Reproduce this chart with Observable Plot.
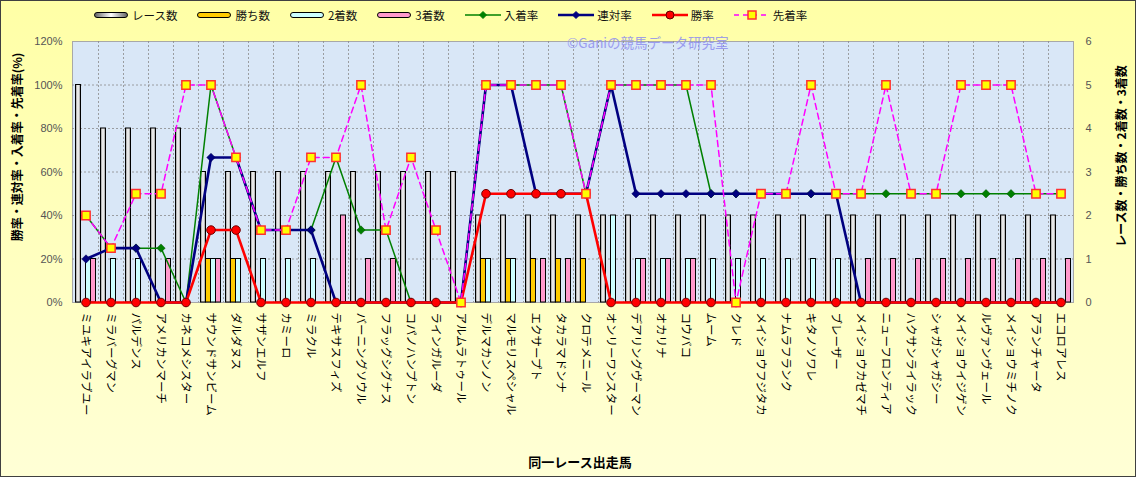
<!DOCTYPE html>
<html>
<head>
<meta charset="utf-8">
<script src="https://cdn.jsdelivr.net/npm/d3@7"></script>
<script src="https://cdn.jsdelivr.net/npm/@observablehq/plot@0.6"></script>
<style>
  body { margin: 0; background: #fff; }
  #wrap { position: relative; width: 1136px; height: 477px; overflow: hidden;
          background: linear-gradient(#ffffa6, #ffffd6); font-family: "Noto Sans CJK JP", sans-serif; }
  #legend { height: 30px; display: flex; align-items: center; padding-left: 94px; font-size: 11.5px; color: #111; }
  .item { display: flex; align-items: center; margin-right: 20px; }
  .sw { width: 32px; height: 4px; border: 1px solid #000; border-radius: 3px; margin-right: 4px; }
  .ln { margin-right: 3px; }
  #mark { position: absolute; left: 567px; top: 32px; font-size: 13.5px; color: #9090ee; opacity: 0.85; white-space: nowrap; }
  #border { position: absolute; left: 0; top: 0; width: 1134px; height: 475px; border: 1px solid #404040; pointer-events: none; }
  svg { display: block; }
</style>
</head>
<body>
<div id="wrap">
  <div id="legend"></div>
  <div id="chart"></div>
  <div id="mark">©Ganiの競馬データ研究室</div>
  <div id="border"></div>
</div>
<script>
const horses = ["ミユキアイラブユー","ミラバーグマン","パルデンス","アメリカンマーチ","カネコメシスター","サウンドサンビーム","ダルダヌス","サザンエルフ","カミーロ","ミラクル","テキサスフィズ","バーニングソウル","フラッグシグナス","コパノハンプトン","ラインガルーダ","アルムラトゥール","デルマカンノン","マルモリスペシャル","エクサープト","タカラマドンナ","クロテメニール","オンリーワンスター","デアリングヴーマン","オカリナ","コウバコ","ムーム","クレド","メイショウフジタカ","ナムラフランク","キタノソワレ","ブレーザー","メイショウカゼマチ","ニューフロンティア","ハクサンライラック","シャガシャガシー","メイショウイジゲン","ルヴァンヴェール","メイショウミチノク","アランチャータ","エコロアレス"];

// counts (right axis)
const races   = [5,4,4,4,4,3,3,3,3,3,3,3,3,3,3,3,2,2,2,2,2,2,2,2,2,2,2,2,2,2,2,2,2,2,2,2,2,2,2,2];
const wins    = [0,0,0,0,0,1,1,0,0,0,0,0,0,0,0,0,1,1,1,1,1,0,0,0,0,0,0,0,0,0,0,0,0,0,0,0,0,0,0,0];
const seconds = [1,1,1,0,0,1,1,1,1,1,0,0,0,0,0,0,1,1,0,0,0,2,1,1,1,1,1,1,1,1,1,0,0,0,0,0,0,0,0,0];
const thirds  = [1,0,0,1,0,1,0,0,0,0,2,1,1,0,0,0,0,0,1,1,0,0,1,1,1,0,0,0,0,0,0,1,1,1,1,1,1,1,1,1];

// rates (left axis, %)
const winRate      = [0,0,0,0,0,33.3,33.3,0,0,0,0,0,0,0,0,0,50,50,50,50,50,0,0,0,0,0,0,0,0,0,0,0,0,0,0,0,0,0,0,0];
const rentaiRate   = [20,25,25,0,0,66.7,66.7,33.3,33.3,33.3,0,0,0,0,0,0,100,100,50,50,50,100,50,50,50,50,50,50,50,50,50,0,0,0,0,0,0,0,0,0];
const placeRate    = [40,25,25,25,0,100,66.7,33.3,33.3,33.3,66.7,33.3,33.3,0,0,0,100,100,100,100,50,100,100,100,100,50,50,50,50,50,50,50,50,50,50,50,50,50,50,50];
const senchakuRate = [40,25,50,50,100,100,66.7,33.3,33.3,66.7,66.7,100,33.3,66.7,33.3,0,100,100,100,100,50,100,100,100,100,100,0,50,50,100,50,50,100,50,50,100,100,100,50,50];

const leftTicks  = [0,20,40,60,80,100,120];
const rightTicks = [0,1,2,3,4,5,6];
const unit = 20; // one race on the right axis equals 20% on the left axis

const rows = horses.map((horse, i) => ({
  horse, races: races[i], wins: wins[i], seconds: seconds[i], thirds: thirds[i],
  win: winRate[i], rentai: rentaiRate[i], place: placeRate[i], senchaku: senchakuRate[i]
}));

// legend
const legendItems = [
  {label: "レース数", bar: "linear-gradient(90deg,#666,#fff 50%,#666)"},
  {label: "勝ち数", bar: "#ffcc00"},
  {label: "2着数", bar: "#ccffff"},
  {label: "3着数", bar: "#ff99cc"},
  {label: "入着率", line: "#008000", sym: "diamond", mfill: "#008000", mstroke: "#008000", w: 1.5},
  {label: "連対率", line: "#000080", sym: "diamond", mfill: "#000080", mstroke: "#000080", w: 2.5},
  {label: "勝率", line: "#ff0000", sym: "circle", mfill: "#ff0000", mstroke: "#600000", w: 2.5},
  {label: "先着率", line: "#ff00ff", sym: "square", mfill: "#ffff00", mstroke: "#ff3030", w: 1.5, dash: "5,4"}
];
const legend = document.getElementById("legend");
for (const it of legendItems) {
  const d = document.createElement("div");
  d.className = "item";
  let sym;
  if (it.bar) {
    sym = `<div class="sw" style="background:${it.bar}"></div>`;
  } else {
    let m = "";
    if (it.sym === "circle") m = `<circle cx="18" cy="6" r="4" fill="${it.mfill}" stroke="${it.mstroke}"/>`;
    if (it.sym === "diamond") m = `<path d="M18,2.5L21.5,6L18,9.5L14.5,6Z" fill="${it.mfill}" stroke="${it.mstroke}"/>`;
    if (it.sym === "square") m = `<rect x="14" y="2" width="8" height="8" fill="${it.mfill}" stroke="${it.mstroke}" stroke-width="1.5"/>`;
    sym = `<svg class="ln" width="36" height="12"><line x1="0" y1="6" x2="36" y2="6" stroke="${it.line}" stroke-width="${it.w}" ${it.dash ? `stroke-dasharray="${it.dash}"` : ""}/>${m}</svg>`;
  }
  d.innerHTML = sym + `<span>${it.label}</span>`;
  legend.appendChild(d);
}

const barSeries = [
  {key: "races", fill: "url(#raceGrad)"},
  {key: "wins", fill: "#ffcc00"},
  {key: "seconds", fill: "#ccffff"},
  {key: "thirds", fill: "#ff99cc"}
];
const barW = 5, barPad = 2.5;
const barMarks = barSeries.map((s, k) =>
  Plot.barY(rows.filter(d => d[s.key] > 0), {
    x: "horse", y: d => d[s.key] * unit, fill: s.fill, stroke: "#000", strokeWidth: 1,
    insetLeft: barPad + barW * k, insetRight: barPad + barW * (3 - k)
  })
);

const svg = Plot.plot({
  width: 1136, height: 447,
  marginTop: 11, marginBottom: 175, marginLeft: 72, marginRight: 63,
  style: {background: "transparent", fontFamily: "'Noto Sans CJK JP', sans-serif", overflow: "visible"},
  x: {type: "band", domain: horses, padding: 0, axis: null, label: null},
  y: {domain: [0, 120], axis: null, label: null},
  marks: [
    Plot.frame({fill: "#d9e7f7", stroke: "#a8a8a8"}),
    Plot.ruleY(leftTicks.slice(1, -1), {stroke: "#8a8a8a", strokeWidth: 0.8, strokeDasharray: "2,2"}),
    Plot.ruleX(horses.slice(1), {x: d => d, dx: -12.5, stroke: "#8a8a8a", strokeWidth: 0.8, strokeDasharray: "2,2"}),
    ...barMarks,
    Plot.line(rows, {x: "horse", y: "place", stroke: "#008000", strokeWidth: 1.5}),
    Plot.dot(rows, {x: "horse", y: "place", symbol: "diamond2", r: 3.8, fill: "#008000", stroke: "#005000", strokeWidth: 0.5}),
    Plot.line(rows, {x: "horse", y: "rentai", stroke: "#000080", strokeWidth: 2.6}),
    Plot.dot(rows, {x: "horse", y: "rentai", symbol: "diamond2", r: 3.8, fill: "#000080", stroke: "#000050", strokeWidth: 0.5}),
    Plot.line(rows, {x: "horse", y: "win", stroke: "#ff0000", strokeWidth: 2.6}),
    Plot.dot(rows, {x: "horse", y: "win", r: 4.3, fill: "#ff0000", stroke: "#700000", strokeWidth: 1}),
    Plot.line(rows, {x: "horse", y: "senchaku", stroke: "#ff00ff", strokeWidth: 1.5, strokeDasharray: "6,4"}),
    Plot.dot(rows, {x: "horse", y: "senchaku", symbol: "square", r: 4.7, fill: "#ffff00", stroke: "#ff3030", strokeWidth: 1.5}),
    Plot.axisY(leftTicks, {anchor: "left", tickSize: 0, tickPadding: 10, tickFormat: d => d + "%",
      fontSize: 11, fontFamily: "'Liberation Sans', sans-serif", fill: "#555", label: null}),
    Plot.axisY(leftTicks, {anchor: "right", tickSize: 0, tickPadding: 12, tickFormat: d => rightTicks[d / unit],
      fontSize: 11, fontFamily: "'Liberation Sans', sans-serif", fill: "#555", label: null}),
    Plot.axisX(horses, {anchor: "bottom", tickSize: 0, tickPadding: 10, tickRotate: 90, fontSize: 11.5, fill: "#000", label: null}),
    Plot.text(["勝率・連対率・入着率・先着率(%)"], {text: d => d, frameAnchor: "left", textAnchor: "middle", rotate: -90, dx: -54, dy: -25, fontSize: 12, fontWeight: "bold", fill: "#000"}),
    Plot.text(["レース数・勝ち数・2着数・3着数"], {text: d => d, frameAnchor: "right", textAnchor: "middle", rotate: -90, dx: 49, dy: -16, fontSize: 12, fontWeight: "bold", fill: "#000"}),
    Plot.text(["同一レース出走馬"], {text: d => d, frameAnchor: "bottom", dy: 160, dx: 7, lineAnchor: "middle", fontSize: 13, fontWeight: "bold", fill: "#000"})
  ]
});

const ns = "http://www.w3.org/2000/svg";
const defs = document.createElementNS(ns, "defs");
defs.innerHTML = `<linearGradient id="raceGrad" x1="0" x2="1" y1="0" y2="0">
  <stop offset="0" stop-color="#8a8a8a"/><stop offset="0.5" stop-color="#ffffff"/><stop offset="1" stop-color="#8a8a8a"/>
</linearGradient>`;
svg.insertBefore(defs, svg.firstChild);
document.getElementById("chart").appendChild(svg);
</script>
</body>
</html>
